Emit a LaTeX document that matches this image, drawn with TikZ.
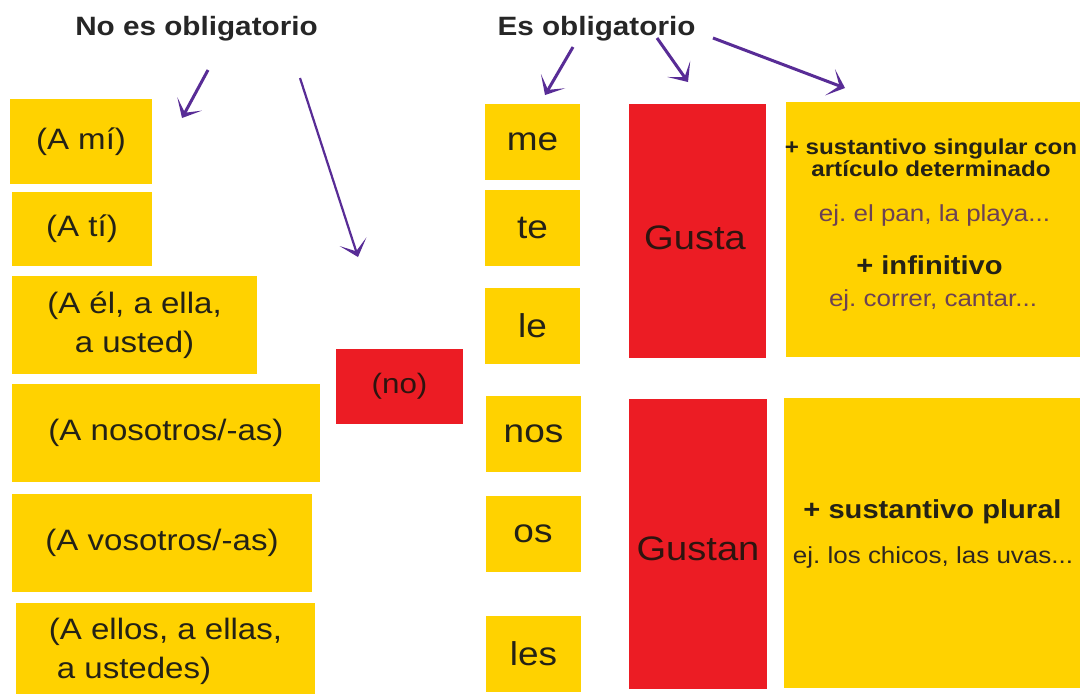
\documentclass[tikz,border=0pt]{standalone}
\usepackage{fontspec}
\setmainfont[FakeStretch=1.12]{Liberation Sans}
\usepackage{tikz}
\usetikzlibrary{positioning}
\usetikzlibrary{arrows.meta}
\usetikzlibrary{calc}
\frenchspacing

\definecolor{amarillo}{RGB}{255,210,0}
\definecolor{rojo}{RGB}{236,28,36}
\definecolor{violeta}{RGB}{88,44,150}
\definecolor{texto}{RGB}{36,34,22}
\definecolor{ejemplo}{RGB}{108,66,84}

\tikzset{
  ybox/.style={fill=amarillo, text=texto, inner sep=0pt, align=center, font=\fontsize{14.75}{19.5}\selectfont},
  pron/.style={ybox, minimum width=47.5pt, minimum height=38pt, font=\fontsize{16.5}{20}\selectfont},
  rbox/.style={fill=rojo, text=texto!80!rojo!60!black, inner sep=0pt, align=center},
  titulo/.style={text=black!85, font=\fontsize{13.25}{16}\selectfont\bfseries, anchor=base},
  arr/.style={draw=violeta, line width=1.5pt, -{Stealth[length=8pt,width=14pt,inset=5pt]}}
}

\begin{document}
\begin{tikzpicture}[x=0.5pt, y=-0.5pt]
                  \useasboundingbox[fill=white] (0,0) rectangle (1080,693);

                  % titulos
                  \node[titulo] (noobl) at (196.5,35) {No es obligatorio};
                  \node[titulo] (esobl) at (596.5,35) {Es obligatorio};

                  % columna izquierda
                  \node[ybox, minimum width=71pt, minimum height=42.5pt] (ami) at (81,141.5) {(A mí)};
                  \node[ybox, minimum width=70pt, minimum height=37pt] (ati) at (82,229) {(A tí)};
                  \node[ybox, minimum width=122.5pt, minimum height=49pt] (ael) at (134.5,325) {(A él, a ella,\\ a usted)};
                  \node[ybox, minimum width=154pt, minimum height=49pt] (anos) at (166,433) {(A nosotros/-as)};
                  \node[ybox, minimum width=150pt, minimum height=49pt] (avos) at (162,543) {(A vosotros/-as)};
                  \node[ybox, minimum width=149.5pt, minimum height=48.5pt, align=left] (aellos) at (165.5,651.5) {(A ellos, a ellas,\\ \hspace*{4pt}a ustedes)};

                  \node[rbox, minimum width=63.5pt, minimum height=37.5pt, font=\fontsize{14}{17}\selectfont] (no) at (399.5,386.5) {(no)};

                  % pronombres
                  \node[pron] (me) at (532.5,141.5) {me};
                  \node[pron] (te) at (532.5,228) {te};
                  \node[pron] (le) at (532.5,325.5) {le};
                  \node[pron] (nos) at (533.5,434) {nos};
                  \node[pron] (os) at (533,534) {os};
                  \node[pron] (les) at (533.5,653.5) {les};

                  % verbos
                  \node[rbox, minimum width=68.5pt, minimum height=127pt] (gusta) at (697,231) {};
                  \node[rbox, minimum width=69pt, minimum height=145pt] (gustan) at (698,544) {};
                  \node[rbox, fill=none, font=\fontsize{17}{20}\selectfont] (gustaT) at (695,238) {Gusta};
                  \node[rbox, fill=none, font=\fontsize{17}{20}\selectfont] (gustanT) at (698,549) {Gustan};

                  % complementos
                  \node[ybox, minimum width=147pt, minimum height=127.5pt] (sing) at (933,229.5) {};
                  \node[ybox, minimum width=148pt, minimum height=145pt] (plur) at (932,543) {};

                  \node[text=texto, align=center, inner sep=0pt, font=\fontsize{10.8}{9.5}\selectfont\bfseries] (singA) at (931,157.5) {+ sustantivo singular con\\artículo determinado};
                  \node[text=ejemplo, inner sep=0pt, font=\fontsize{11.6}{14}\selectfont] (singB) at (934.5,215) {ej. el pan, la playa...};
                  \node[text=texto, inner sep=0pt, font=\fontsize{13}{16}\selectfont\bfseries] (infA) at (929.5,265) {+ infinitivo};
                  \node[text=ejemplo, inner sep=0pt, font=\fontsize{11.6}{14}\selectfont] (infB) at (933,300) {ej. correr, cantar...};
                  \node[text=texto, inner sep=0pt, font=\fontsize{13}{16}\selectfont\bfseries] (plurA) at (932.5,512) {+ sustantivo plural};
                  \node[text=texto!85!ejemplo, inner sep=0pt, font=\fontsize{11.6}{14}\selectfont] (plurB) at (933,557) {ej. los chicos, las uvas...};

                  % flechas
                  \coordinate (noA) at (208,70);
                  \coordinate (noB) at (300,78);
                  \coordinate (esA) at (573,47);
                  \coordinate (esB) at (657,38);
                  \coordinate (esC) at (713,38);
                  \coordinate (tipA) at (182,118);
                  \coordinate (tipB) at (358,257);
                  \coordinate (tipme) at (545,95);
                  \coordinate (tipgusta) at (688,82);
                  \coordinate (tipsing) at (845,88);

                  \draw[arr] (noA) -- (tipA);
                  \draw[arr, line width=1.1pt] (noB) -- (tipB);
                  \draw[arr] (esA) -- (tipme);
                  \draw[arr] (esB) -- (tipgusta);
                  \draw[arr] (esC) -- (tipsing);
              \end{tikzpicture}
\end{document}
